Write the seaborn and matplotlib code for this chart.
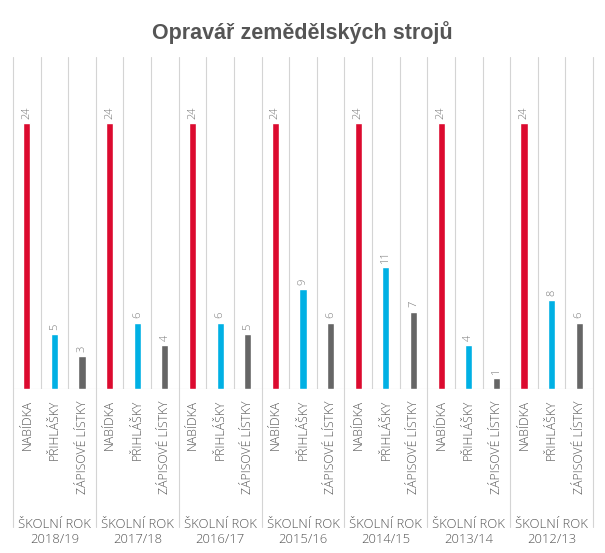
import pandas as pd
import matplotlib.pyplot as plt
import seaborn as sns

roky = ["2018/19", "2017/18", "2016/17", "2015/16", "2014/15", "2013/14", "2012/13"]
ukazatele = ["NABÍDKA", "PŘIHLÁŠKY", "ZÁPISOVÉ LÍSTKY"]

nabidka = [24, 24, 24, 24, 24, 24, 24]
prihlasky = [5, 6, 6, 9, 11, 4, 8]
zapisove_listky = [3, 4, 5, 6, 7, 1, 6]

barvy = ["#dc0a2f", "#00b0e4", "#666666"]

rows = []
for i, rok in enumerate(roky):
    for ukazatel, hodnoty in zip(ukazatele, [nabidka, prihlasky, zapisove_listky]):
        rows.append({
            "pozice": f"{rok} {ukazatel}",
            "rok": rok,
            "ukazatel": ukazatel,
            "hodnota": hodnoty[i],
        })
df = pd.DataFrame(rows)

sns.set_style("white")
plt.rcParams["font.family"] = ["Open Sans", "DejaVu Sans"]

fig = plt.figure(figsize=(6.05, 5.53), dpi=100)
ax = fig.add_axes([13 / 605, 164 / 553, 580 / 605, 332 / 553])

sns.barplot(
    data=df,
    x="pozice",
    y="hodnota",
    hue="ukazatel",
    hue_order=ukazatele,
    palette=barvy,
    saturation=1,
    dodge=False,
    width=0.26,
    legend=False,
    ax=ax,
)

ax.set_ylim(0, 30)
ax.set_xlim(-0.5, len(df) - 0.5)
sns.despine(ax=ax, left=True, bottom=True, top=True, right=True)
ax.set_yticks([])
ax.set_xlabel("")
ax.set_ylabel("")

# svislé mřížky mezi sloupci
grid_color = "#d4d4d4"
for k in range(len(df) + 1):
    x = k - 0.5
    if k % 3 == 0:
        ax.axvline(x, ymin=-0.415, ymax=1, color=grid_color, lw=0.8,
                   clip_on=False, zorder=0)
    else:
        ax.axvline(x, ymin=0, ymax=1, color=grid_color, lw=0.8, zorder=0)
ax.axhline(0, color=grid_color, lw=0.8, zorder=0)

# popisky hodnot
for container in ax.containers:
    ax.bar_label(container, rotation=90, padding=3, fontsize=8,
                 color="#777777", fontweight="light")

ax.set_xticks(range(len(df)))
ax.set_xticklabels(df["ukazatel"], rotation=90, fontsize=8.8,
                   color="#555555", fontweight="light")
ax.tick_params(axis="x", length=0, pad=8)

for i, rok in enumerate(roky):
    ax.text(i * 3 + 1, -0.39, f"ŠKOLNÍ ROK\n{rok}", transform=ax.get_xaxis_transform(),
            ha="center", va="top", fontsize=9.4, color="#555555",
            linespacing=1.2, fontweight="light")

fig.text(0.5, 0.942, "Opravář zemědělských strojů", ha="center", va="center",
         fontsize=15.5, fontweight="bold", color="#555555",
         family=["Liberation Sans", "DejaVu Sans"])

fig.savefig("out.png", dpi=100)
